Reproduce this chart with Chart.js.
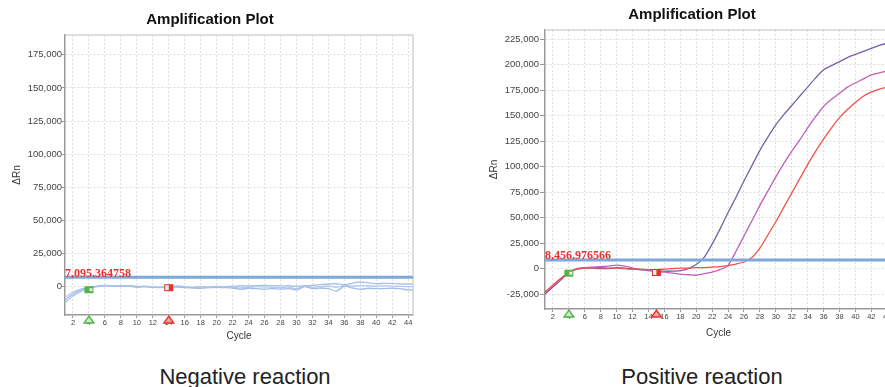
<!DOCTYPE html>
<html>
<head>
<meta charset="utf-8">
<script src="https://cdn.jsdelivr.net/npm/chart.js@4.4.1/dist/chart.umd.min.js"></script>
<style>
    html, body { margin: 0; padding: 0; background: #fff; overflow: hidden; }
    #page { position: relative; width: 885px; height: 387px; overflow: hidden; }
    #negCanvas { position: absolute; left: 0; top: 0; }
    #posCanvas { position: absolute; left: 470px; top: 0; }
    .caption {
        position: absolute; top: 364px; line-height: 22px;
        font: 22px "Liberation Sans", Arial, sans-serif; color: #222;
        transform: translateX(-50%); white-space: nowrap;
    }
</style>
</head>
<body>
<div id="page">
    <canvas id="negCanvas" width="420" height="345"></canvas>
    <canvas id="posCanvas" width="444" height="345"></canvas>
    <div class="caption" style="left:245px;">Negative reaction</div>
    <div class="caption" style="left:702px;">Positive reaction</div>
</div>
<script>
// ==================== DATA ====================
const cycles = [1, 2, 3, 4, 5, 6, 7, 8, 9, 10, 11, 12, 13, 14, 15, 16, 17, 18, 19, 20, 21, 22, 23,
    24, 25, 26, 27, 28, 29, 30, 31, 32, 33, 34, 35, 36, 37, 38, 39, 40, 41, 42, 43, 44, 45];
const cycleTicks = [2, 4, 6, 8, 10, 12, 14, 16, 18, 20, 22, 24, 26, 28, 30, 32, 34, 36, 38, 40, 42, 44];

// negative reaction (3 wells, flat)
const negWellA = [-12000, -7000, -3500, -1500, 0, 800, 500, 600, 800, -500, 300, -200, -300, 0, 500, 0, -500,
    0, -300, 200, -200, 300, 700, 500, 800, 900, 800, 600, 700, 300, 500, 1000, 1500, 2000, 2200, 1500, 2500,
    3500, 3000, 2200, 2500, 2500, 2000, 2000, 1800];
const negWellB = [-10000, -5500, -2500, -1000, 300, 1000, 700, 300, 500, 200, 0, -400, -600, -500, -300, -800,
    -1000, -1200, -800, -500, -700, -1000, -2000, -1200, -1500, -2000, -1500, -1800, -1500, -2500, 0, -1500,
    -1000, -1500, -3500, 500, -1000, -2000, -1200, -1500, -1500, -1200, -1500, -2500, -2500];
const negWellC = [-8000, -4000, -1800, -700, 200, 500, 200, 600, 300, -200, 100, -500, -800, -600, 0, -300,
    -600, -200, -400, -600, 0, -300, -1000, -500, 0, -300, -500, -800, -300, -1500, 500, -500, 0, 500, -500,
    1000, 500, 800, 500, 300, 600, 400, 200, 0, 0];
const negYTicks = [0, 25000, 50000, 75000, 100000, 125000, 150000, 175000];
const negThreshold = 7095.364758;

// positive reaction (3 wells, amplifying)
const posPurple = [-25000, -18000, -11000, -4000, -500, 500, 500, 0, 0, 1000, 500, -500, -1000, -1500, -2000,
    -2500, -2500, -2000, 0, 4000, 11000, 24000, 39000, 55000, 70000, 86000, 101000, 116000, 129000, 141000,
    151000, 160000, 169000, 178000, 187000, 195000, 199000, 203000, 207000, 210000, 213000, 216000, 219000,
    221000, 222000];
const posMagenta = [-24000, -17000, -10000, -4000, 0, 1000, 1500, 2000, 2500, 3500, 2500, 500, -1000, -2000,
    -3000, -3500, -4500, -5500, -6000, -6500, -5000, -3500, -1000, 3000, 17000, 32000, 47000, 62000, 76000,
    90000, 103000, 115000, 126000, 138000, 149000, 159000, 166000, 172000, 178000, 182000, 186000, 190000,
    192000, 194000, 195000];
const posRed = [-23000, -16000, -9500, -3500, -500, 500, 1000, 1000, 500, 500, 0, -500, -500, -1000, -1000,
    -500, 0, 500, 500, 1000, 1000, 1500, 2000, 3000, 4500, 6500, 11000, 20000, 33000, 46000, 60000, 74000,
    88000, 102000, 115000, 127000, 138000, 148000, 156000, 163000, 169000, 173000, 176000, 178000, 179000];
const posYTicks = [-25000, 0, 25000, 50000, 75000, 100000, 125000, 150000, 175000, 200000, 225000];
const posThreshold = 8456.976566;

// baseline start / end cycles  [cycle, deltaRn]
const negBaseline = [[4, -2300], [14, -800]];
const posBaseline = [[4, -4500], [15, -3800]];

// ==================== PLUGINS ====================
const SANS = '"Liberation Sans", Arial, sans-serif';

const framePlugin = {
    id: 'frame',
    beforeDatasetsDraw(chart) {
        const { ctx, chartArea: a } = chart;
        ctx.save();
        ctx.strokeStyle = '#d9d2d2';
        ctx.lineWidth = 1.5;
        ctx.beginPath();
        ctx.moveTo(a.left, a.top); ctx.lineTo(a.right, a.top); ctx.lineTo(a.right, a.bottom);
        ctx.stroke();
        ctx.restore();
    }
};

const thresholdPlugin = {
    id: 'threshold',
    afterDatasetsDraw(chart, args, opts) {
        const { ctx, chartArea: a, scales: { y } } = chart;
        const py = y.getPixelForValue(opts.value);
        ctx.save();
        ctx.strokeStyle = '#7fa8da';
        ctx.lineWidth = 3;
        ctx.beginPath(); ctx.moveTo(a.left, py); ctx.lineTo(a.right, py); ctx.stroke();
        ctx.fillStyle = '#e8302c';
        ctx.font = 'bold 12px "Liberation Serif", "Times New Roman", serif';
        ctx.textBaseline = 'alphabetic';
        ctx.fillText(opts.value.toLocaleString('en-US', { minimumFractionDigits: 6 }), a.left, py - 0.5);
        ctx.restore();
    }
};

const baselinePlugin = {
    id: 'baseline',
    afterDatasetsDraw(chart, args, opts) {
        const { ctx, chartArea: a, scales: { x, y } } = chart;
        ctx.save();
        opts.points.forEach(([cyc, val], i) => {
            const px = x.getPixelForValue(cyc);
            const py = y.getPixelForValue(val);
            const main = i === 0 ? '#52b44a' : '#e5312b';
            const pale = i === 0 ? '#c9ebc2' : '#f3a09a';
            // square on the curve
            ctx.fillStyle = main;
            ctx.fillRect(px - 4.5, py - 3.5, 9, 7);
            ctx.fillStyle = '#eeeeee';
            if (i === 0) ctx.fillRect(px + 0.5, py - 1.5, 3, 3);
            else ctx.fillRect(px - 3.5, py - 2.5, 3.5, 5);
            // triangle under the axis
            const ty = a.bottom + 1;
            ctx.beginPath();
            ctx.moveTo(px, ty); ctx.lineTo(px + 5, ty + 7); ctx.lineTo(px - 5, ty + 7); ctx.closePath();
            ctx.fillStyle = pale; ctx.fill();
            ctx.strokeStyle = main; ctx.lineWidth = 1.3; ctx.stroke();
        });
        ctx.restore();
    }
};

// ==================== CHART BUILDER ====================
function makeSeries(values, color) {
    return {
        data: values.map((v, i) => ({ x: cycles[i], y: v })),
        borderColor: color,
        borderWidth: 1.3,
        pointRadius: 0,
        tension: 0.2,
        fill: false,
    };
}

function buildChart(canvasId, cfg) {
    return new Chart(document.getElementById(canvasId), {
        type: 'line',
        data: { datasets: cfg.datasets },
        plugins: [framePlugin, thresholdPlugin, baselinePlugin],
        options: {
            responsive: false,
            animation: false,
            events: [],
            layout: { padding: { left: cfg.sidePad, right: cfg.sidePad, top: 0, bottom: 0 } },
            plugins: {
                legend: { display: false },
                tooltip: { enabled: false },
                title: {
                    display: true,
                    text: 'Amplification Plot',
                    color: '#111',
                    font: { family: SANS, size: 15, weight: 'bold' },
                    padding: { top: cfg.titleTop, bottom: 6 },
                },
                threshold: { value: cfg.threshold },
                baseline: { points: cfg.baseline },
            },
            scales: {
                x: {
                    type: 'linear',
                    min: 1, max: 44.6,
                    afterBuildTicks: s => { s.ticks = cycleTicks.map(v => ({ value: v })); },
                    afterFit: s => { s.height = cfg.xAxisH; s.paddingLeft = 0; s.paddingRight = 0; },
                    ticks: {
                        autoSkip: false, maxRotation: 0, padding: 0,
                        color: '#444', font: { family: SANS, size: 7.5 },
                    },
                    grid: { color: '#dedede', lineWidth: 1, tickLength: 3, tickColor: '#999' },
                    border: { color: '#9a9a9a', width: 1.5, dash: [2, 2] },
                    title: {
                        display: true, text: 'Cycle', color: '#333',
                        font: { family: SANS, size: 10 },
                        padding: { top: 0, bottom: cfg.cycleBottom },
                    },
                },
                y: {
                    type: 'linear',
                    min: cfg.yMin, max: cfg.yMax,
                    afterBuildTicks: s => { s.ticks = cfg.yTicks.map(v => ({ value: v })); },
                    afterFit: s => { s.width = cfg.yAxisW; s.paddingTop = 0; s.paddingBottom = 0; },
                    ticks: {
                        padding: cfg.yTickPad,
                        color: '#444', font: { family: SANS, size: 9.5 },
                    },
                    grid: { color: '#dedede', lineWidth: 1, tickLength: cfg.yTickLen, tickColor: '#999' },
                    border: { color: '#9a9a9a', width: 1.5, dash: [2, 2] },
                    title: {
                        display: true, text: 'ΔRn', color: '#333',
                        font: { family: SANS, size: 10 },
                        padding: { top: cfg.rnPad, bottom: 0 },
                    },
                },
            },
        },
    });
}

// ==================== DRAW ====================
buildChart('negCanvas', {
    datasets: [
        makeSeries(negWellA, '#a9c4ea'),
        makeSeries(negWellB, '#a2bde6'),
        makeSeries(negWellC, '#b3cbee'),
    ],
    sidePad: 7, titleTop: 11, xAxisH: 30, yAxisW: 58,
    cycleBottom: 3, rnPad: 4, yTickPad: 0, yTickLen: 3,
    yMin: -21400, yMax: 190000, yTicks: negYTicks,
    threshold: negThreshold, baseline: negBaseline,
});

buildChart('posCanvas', {
    datasets: [
        makeSeries(posRed, '#f0524b'),
        makeSeries(posMagenta, '#c260b6'),
        makeSeries(posPurple, '#7a5fa8'),
    ],
    sidePad: 22, titleTop: 6, xAxisH: 36, yAxisW: 53,
    cycleBottom: 6, rnPad: -4, yTickPad: 1, yTickLen: 5,
    yMin: -39600, yMax: 234000, yTicks: posYTicks,
    threshold: posThreshold, baseline: posBaseline,
});
</script>
</body>
</html>
